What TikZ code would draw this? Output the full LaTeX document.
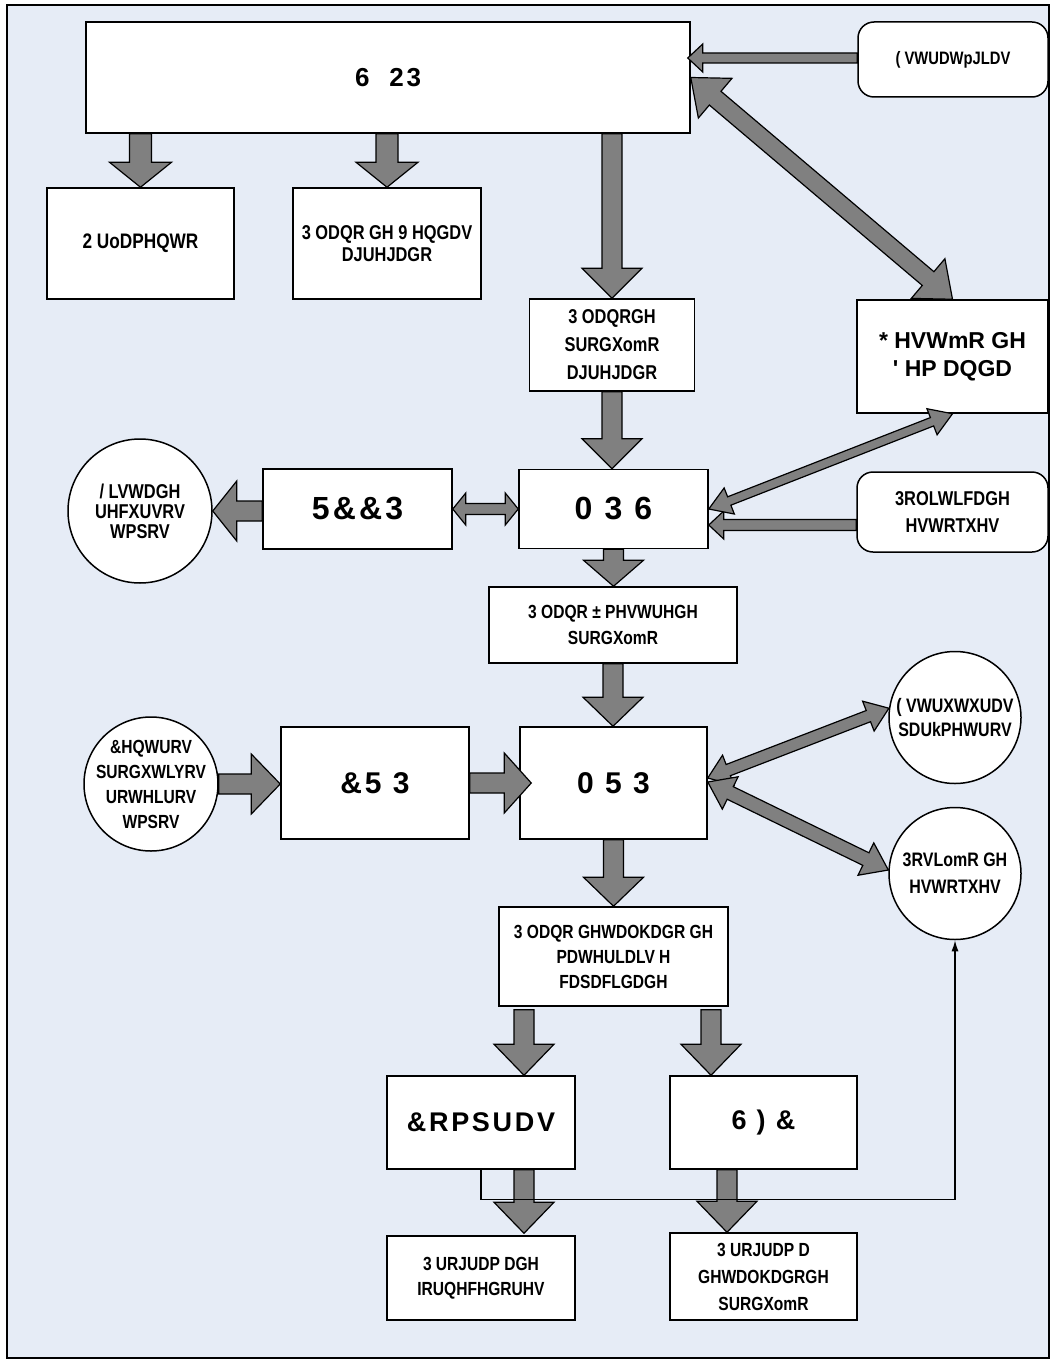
\documentclass[tikz,border=0pt]{standalone}
\usepackage{fontspec}
\setmainfont{Liberation Sans}
\newfontfamily\narrowf{Liberation Sans}[FakeStretch=0.82]
\newfontfamily\widef{Liberation Sans}[LetterSpace=10]
\usetikzlibrary{calc,arrows.meta}
\definecolor{bgblue}{RGB}{230,236,246}
\definecolor{arrgray}{RGB}{128,128,128}
\newcommand\fsz[2]{\fontsize{#1}{#2}\selectfont}
% block arrow: tail, tip, shaft half-width, head half-width, head length
\newcommand\blkarrow[5]{%
  \coordinate (bA) at (#1); \coordinate (bB) at (#2);
  \coordinate (bH) at ($(bB)!#5!(bA)$);
  \filldraw[blockarr] ($(bA)!#3!90:(bB)$) -- ($(bH)!#3!90:(bB)$) -- ($(bH)!#4!90:(bB)$)
    -- (bB) -- ($(bH)!#4!-90:(bB)$) -- ($(bH)!#3!-90:(bB)$) -- ($(bA)!#3!-90:(bB)$) -- cycle;}
% double-headed block arrow
\newcommand\blkdarrow[5]{%
  \coordinate (bA) at (#1); \coordinate (bB) at (#2);
  \coordinate (bH) at ($(bB)!#5!(bA)$); \coordinate (bG) at ($(bA)!#5!(bB)$);
  \filldraw[blockarr] (bA) -- ($(bG)!#4!90:(bB)$) -- ($(bG)!#3!90:(bB)$) -- ($(bH)!#3!90:(bB)$)
    -- ($(bH)!#4!90:(bB)$) -- (bB) -- ($(bH)!#4!-90:(bB)$) -- ($(bH)!#3!-90:(bB)$)
    -- ($(bG)!#3!-90:(bB)$) -- ($(bG)!#4!-90:(bB)$) -- cycle;}
\tikzset{
  box/.style={draw=black, fill=white, line width=1.5pt, inner sep=1pt, align=center},
  nf/.style 2 args={font=\narrowf\bfseries\fsz{#1}{#2}},
  wf/.style 2 args={font=\widef\bfseries\fsz{#1}{#2}},
  rbox/.style={box, rounded corners=16pt},
  circ/.style={draw=black, fill=white, line width=1.5pt, circle, inner sep=0pt},
  ctext/.style={align=center, inner sep=0pt},
  blockarr/.style={fill=arrgray, draw=black, line width=1.2pt, line join=miter},
  conn/.style={draw=black, line width=1.4pt, -{Latex[length=11pt,width=7pt]}}
}
\begin{document}
\begin{tikzpicture}[x=1pt, y=-1pt]
\useasboundingbox (0,0) rectangle (1050,1359);
\draw[fill=bgblue, line width=1.4pt] (7,5) rectangle (1049,1358);

% upper level
\node[box, wf={26}{28}, minimum width=604, minimum height=111] (sop) at (388,77.5)
  {6\hspace{20pt}23};
\node[rbox, nf={18}{20}, minimum width=190, minimum height=75] (est) at (953,59.5)
  {( VWUDWpJLDV};
\node[box, nf={21}{22}, minimum width=187, minimum height=111] (orc) at (140.5,243.5)
  {2 UoDPHQWR};
\node[box, nf={20}{22}, minimum width=188, minimum height=111] (pvend) at (387,243.5)
  {3 ODQR GH 9 HQGDV\\DJUHJDGR};
\node[box, nf={20}{28}, minimum width=165, minimum height=92] (pprod) at (612,345)
  {3 ODQRGH\\SURGXomR\\DJUHJDGR};
\node[box, font=\bfseries\fsz{23}{28}, minimum width=191, minimum height=113] (gd) at (952.5,356.5)
  {* HVWmR GH\\\textquotesingle{} HP DQGD};

% MPS level
\node[circ, minimum size=144] (lista) at (140,511) {};
\node[ctext, nf={20}{20}] (lista-t) at (lista) {/ LVWDGH\\UHFXUVRV\\WPSRV};
\node[box, wf={32}{34}, minimum width=189, minimum height=80] (rccp) at (357.5,509)
  {5\&\&3};
\node[box, wf={32}{34}, minimum width=189, minimum height=79] (mps) at (613.5,509)
  {0 3 6};
\node[rbox, nf={20}{27}, minimum width=191, minimum height=80] (pol) at (952.5,512)
  {3ROLWLFDGH\\HVWRTXHV};
\node[box, nf={19}{26}, minimum width=248, minimum height=76] (pmestre) at (613,625)
  {3 ODQR ± PHVWUHGH\\SURGXomR};

% MRP level
\node[circ, minimum size=134] (centros) at (151,784) {};
\node[ctext, nf={19}{25}] (centros-t) at (centros) {\&HQWURV\\SURGXWLYRV\\URWHLURV\\WPSRV};
\node[box, wf={30}{32}, minimum width=188, minimum height=112] (crp) at (375,783)
  {\&5 3};
\node[box, wf={30}{32}, minimum width=187, minimum height=112] (mrp) at (613.5,783)
  {0 5 3};
\node[circ, minimum size=132] (estr) at (955,717.5) {};
\node[ctext, nf={19.5}{24}] (estr-t) at (estr) {( VWUXWXUDV\\SDUkPHWURV};
\node[circ, minimum size=132] (pos) at (955,873.5) {};
\node[ctext, nf={19.5}{27}] (pos-t) at (pos) {3RVLomR GH\\HVWRTXHV};

% execution level
\node[box, nf={19}{25}, minimum width=229, minimum height=99] (det) at (613.5,956.5)
  {3 ODQR GHWDOKDGR GH\\PDWHULDLV H\\FDSDFLGDGH};
\node[box, wf={27}{30}, minimum width=188, minimum height=93] (compras) at (481,1122.5)
  {\&RPSUDV};
\node[box, wf={27}{30}, minimum width=187, minimum height=93] (sfc) at (763.5,1122.5)
  {6 ) \&};
\node[box, nf={19}{25}, minimum width=188, minimum height=84] (pfor) at (481,1278)
  {3 URJUDP DGH\\IRUQHFHGRUHV};
\node[box, nf={19}{27}, minimum width=187, minimum height=87] (pdet) at (763.5,1276.5)
  {3 URJUDP D\\GHWDOKDGRGH\\SURGXomR};

% block arrows
\blkarrow{sop.south -| orc.north}{orc.north}{11pt}{31pt}{25pt}
\blkarrow{sop.south -| pvend.north}{pvend.north}{11pt}{31pt}{25pt}
\blkarrow{sop.south -| pprod.north}{pprod.north}{10pt}{30pt}{30pt}
\blkarrow{pprod.south}{pprod.south |- mps.north}{10pt}{30pt}{30pt}
\blkarrow{mps.south}{mps.south |- pmestre.north}{10pt}{30pt}{26pt}
\blkarrow{pmestre.south}{pmestre.south |- mrp.north}{10pt}{30pt}{29pt}
\blkarrow{mrp.south}{mrp.south |- det.north}{10pt}{30pt}{29pt}
\blkarrow{$(det.south)+(-89.5,3)$}{$(compras.north)+(43,0)$}{10pt}{30pt}{31pt}
\blkarrow{$(det.south)+(97.5,3)$}{$(sfc.north)+(-52.5,0)$}{10pt}{30pt}{31pt}
\blkarrow{$(compras.south)+(43,0)$}{$(pfor.north)+(43,-2)$}{10pt}{30pt}{31pt}
\blkarrow{$(sfc.south)+(-36.5,0)$}{$(pdet.north)+(-36.5,0)$}{10pt}{30pt}{31pt}
\blkarrow{rccp.west |- lista.east}{lista.east}{10pt}{30pt}{24pt}
\blkarrow{centros.east}{crp.west |- centros.east}{10pt}{30pt}{29pt}
\blkarrow{crp.east}{$(mrp.west)+(12,0)$}{10pt}{30pt}{27pt}
\coordinate (estw) at ($(est.west)+(0,-1.5)$);
\blkarrow{estw}{$(sop.east |- estw)+(-3,0)$}{5pt}{14pt}{15pt}
\coordinate (polw) at ($(pol.west)+(0,13)$);
\blkarrow{polw}{mps.east |- polw}{5.5pt}{14pt}{15pt}

% double-headed block arrows
\blkdarrow{sop.east}{gd.north}{9pt}{26pt}{32pt}
\blkdarrow{rccp.east}{mps.west}{5.5pt}{16pt}{13pt}
\blkdarrow{mps.east}{gd.south}{4.5pt}{14pt}{22pt}
\blkdarrow{$(mrp.east)+(0,-5)$}{estr.172}{6pt}{16pt}{22pt}
\blkdarrow{$(mrp.east)+(0,-1)$}{pos.177}{7pt}{18pt}{25pt}

% feedback line
\draw[conn] (compras.south) -- ++(0,30) -| (pos.south);
\end{tikzpicture}
\end{document}
